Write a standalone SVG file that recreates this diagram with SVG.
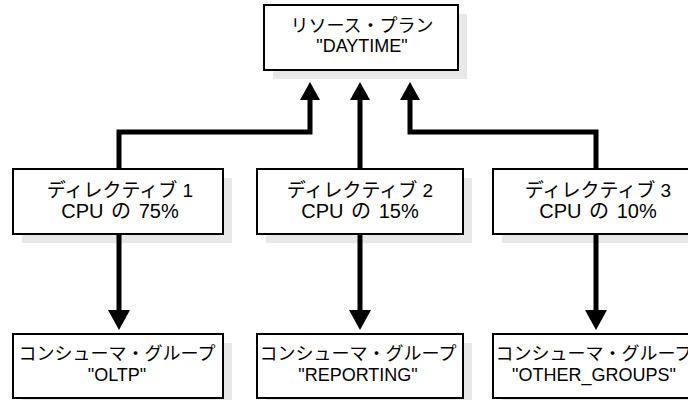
<svg xmlns="http://www.w3.org/2000/svg" width="688" height="400" viewBox="0 0 688 400">
<style>
.shadow{fill:#e8e8e8;stroke:none}
.box{fill:#fff;stroke:#000;stroke-width:2}
text{font-family:"Liberation Sans","Noto Sans CJK JP",sans-serif;font-size:18px;fill:#000;text-anchor:middle}
.d1{font-size:19px}
.d2{font-size:20px;word-spacing:2px}
.conn{fill:none;stroke:#000;stroke-width:5}
.head{fill:#000}
</style>
<rect width="688" height="400" fill="#fff"/>
<g id="plan">
<rect class="shadow" x="273" y="14" width="194" height="65"/>
<rect class="box" x="264" y="5" width="194" height="65"/>
<text x="362" y="32">リソース・プラン</text>
<text x="362" y="52">"DAYTIME"</text>
</g>
<g id="directive1">
<rect class="shadow" x="22" y="178" width="210" height="65"/>
<rect class="box" x="13" y="169" width="210" height="65"/>
<text class="d1" x="120" y="197">ディレクティブ 1</text>
<text class="d2" x="120" y="218">CPU の 75%</text>
</g>
<g id="directive2">
<rect class="shadow" x="266" y="178" width="206" height="65"/>
<rect class="box" x="257" y="169" width="206" height="65"/>
<text class="d1" x="360" y="197">ディレクティブ 2</text>
<text class="d2" x="360" y="218">CPU の 15%</text>
</g>
<g id="directive3">
<rect class="shadow" x="502" y="178" width="210" height="65"/>
<rect class="box" x="493" y="169" width="210" height="65"/>
<text class="d1" x="598" y="197">ディレクティブ 3</text>
<text class="d2" x="598" y="218">CPU の 10%</text>
</g>
<g id="group1">
<rect class="shadow" x="22" y="343" width="210" height="64"/>
<rect class="box" x="13" y="334" width="210" height="64"/>
<text x="117" y="360">コンシューマ・グループ</text>
<text x="117" y="381">"OLTP"</text>
</g>
<g id="group2">
<rect class="shadow" x="266" y="343" width="206" height="64"/>
<rect class="box" x="257" y="334" width="206" height="64"/>
<text x="358" y="360">コンシューマ・グループ</text>
<text x="358" y="381">"REPORTING"</text>
</g>
<g id="group3">
<rect class="shadow" x="502" y="343" width="210" height="64"/>
<rect class="box" x="493" y="334" width="210" height="64"/>
<text x="594" y="360">コンシューマ・グループ</text>
<text x="594" y="381">"OTHER_GROUPS"</text>
</g>
<g id="connectors">
<polyline class="conn" points="119,169 119,132 310,132 310,98"/>
<polygon class="head" points="300,100 320,100 310,82"/>
<polyline class="conn" points="360,169 360,98"/>
<polygon class="head" points="350,100 370,100 360,82"/>
<polyline class="conn" points="596,169 596,132 410,132 410,98"/>
<polygon class="head" points="400,100 420,100 410,82"/>
<polyline class="conn" points="119,234 119,312"/>
<polygon class="head" points="108,310 130,310 119,330"/>
<polyline class="conn" points="360,234 360,312"/>
<polygon class="head" points="349,310 371,310 360,330"/>
<polyline class="conn" points="596,234 596,312"/>
<polygon class="head" points="585,310 607,310 596,330"/>
</g>
</svg>
